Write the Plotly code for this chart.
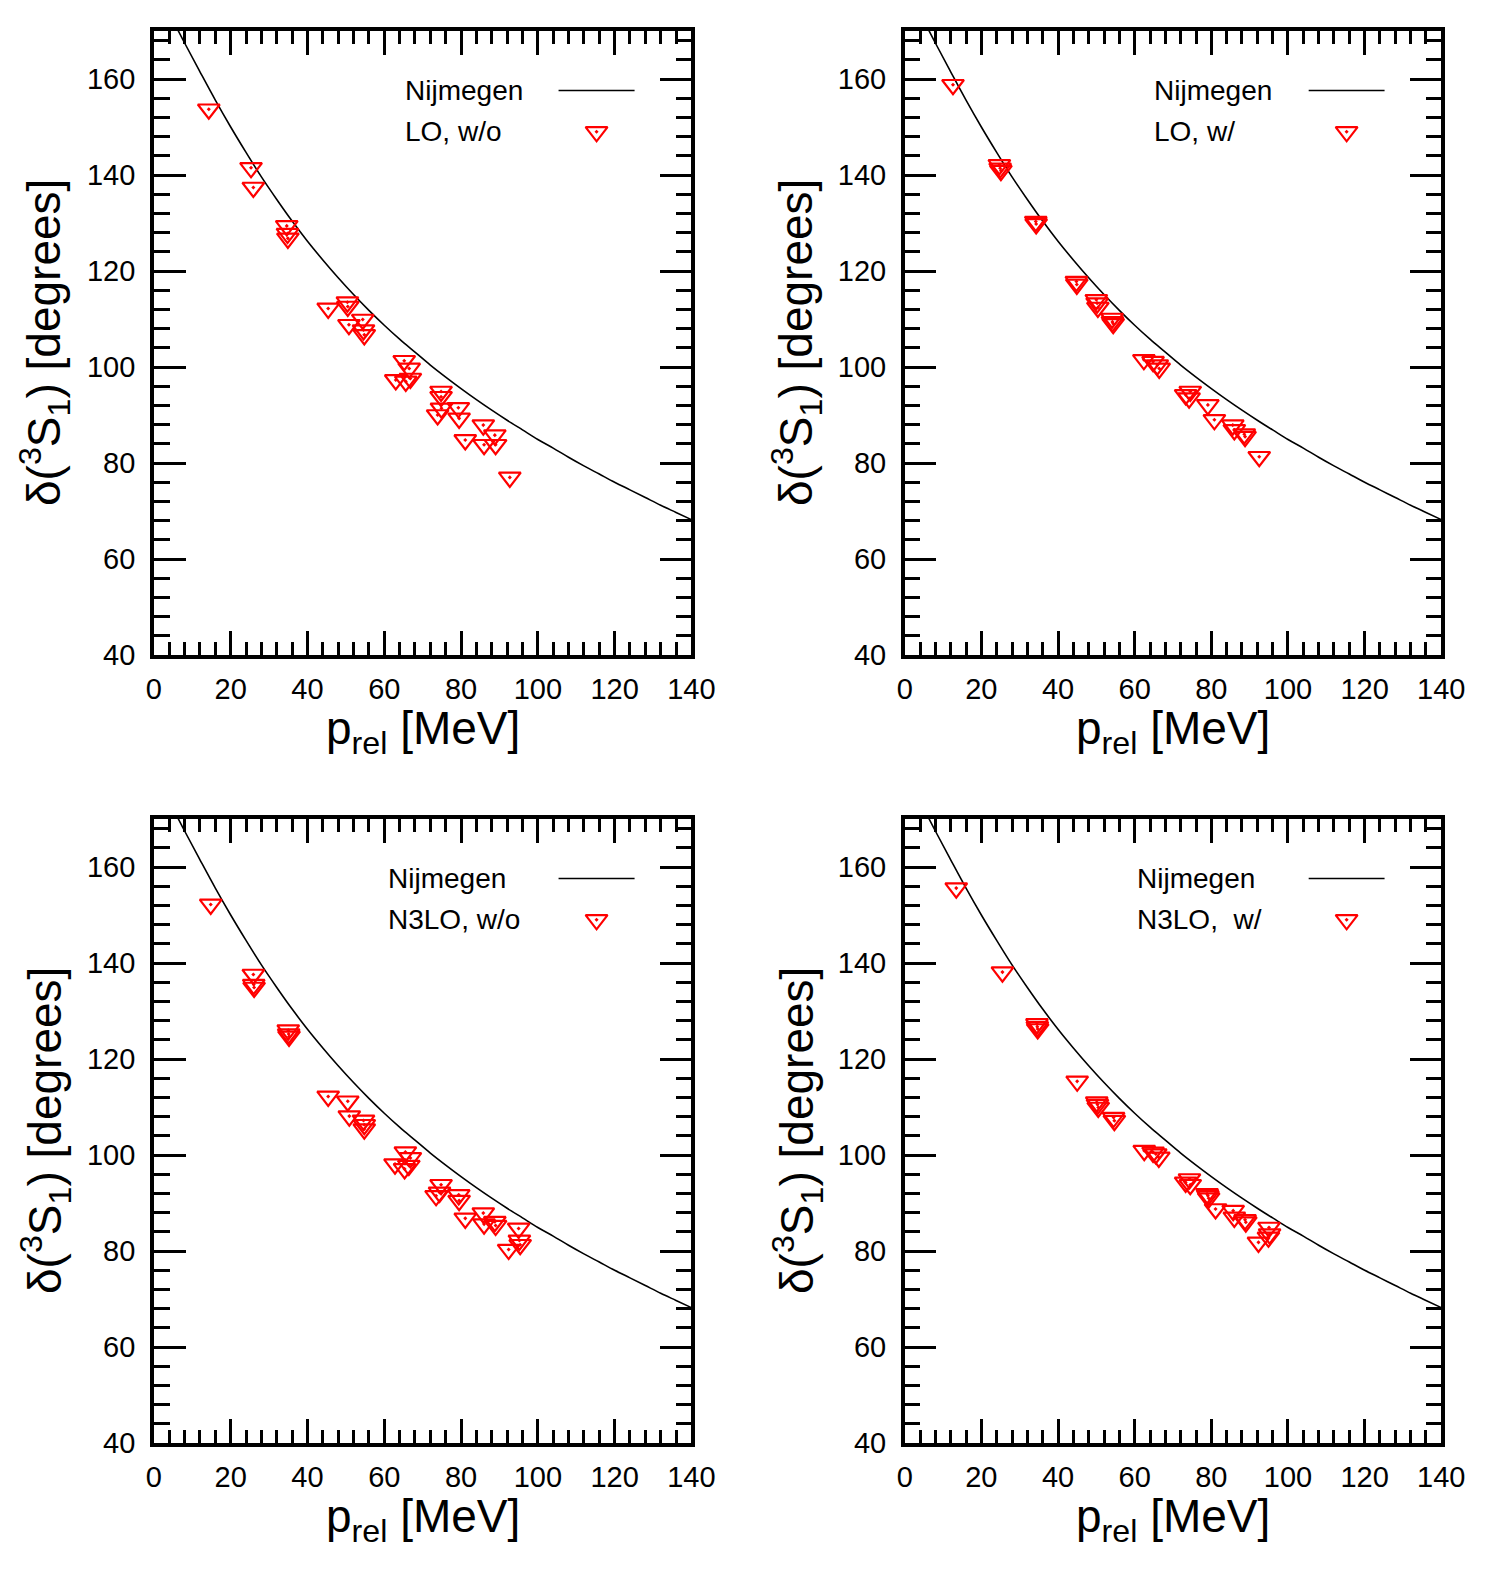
import plotly.graph_objects as go

# ---------------- data ----------------
p_nij = [4, 8, 12, 16, 20, 24, 28, 32, 36, 40, 44, 48, 52, 56, 60, 64, 68, 72, 76, 80,
         84, 88, 92, 96, 100, 104, 108, 112, 116, 120, 124, 128, 132, 136, 140]
d_nij = [173.7, 167.5, 161.5, 155.6, 150.0, 144.7, 139.6, 134.9, 130.4, 126.2, 122.3,
         118.6, 115.1, 111.8, 108.7, 105.8, 103.1, 100.4, 97.9, 95.5, 93.2, 91.0, 88.9,
         86.9, 84.9, 83.1, 81.2, 79.4, 77.7, 76.0, 74.4, 72.8, 71.2, 69.7, 68.2]

p_lo_wo = [14.3, 25.3, 25.9, 34.6, 34.8, 34.9, 45.4, 50.4, 50.5, 50.8, 54.4, 54.6, 54.8,
           65.2, 66.5, 63.0, 65.6, 66.8, 74.8, 74.8, 74.9, 73.9, 79.3, 79.5, 81.1, 85.8,
           86.0, 88.8, 89.0, 92.7]
d_lo_wo = [153.7, 141.5, 137.4, 129.4, 127.8, 126.8, 112.2, 113.5, 112.6, 108.8, 109.9,
           107.7, 106.7, 101.3, 99.7, 97.3, 97.0, 97.6, 94.9, 93.8, 91.4, 90.0, 91.5, 89.3,
           84.8, 87.9, 83.8, 85.8, 83.8, 77.0]

p_lo_w = [12.6, 24.7, 24.9, 25.1, 34.2, 34.3, 44.8, 44.9, 50.0, 50.2, 50.4, 54.1, 54.2,
          54.4, 62.4, 64.8, 65.9, 66.4, 73.3, 74.5, 74.2, 79.1, 80.8, 85.6, 86.0, 88.6,
          88.8, 92.5]
d_lo_w = [158.8, 142.1, 141.4, 140.9, 130.3, 129.8, 117.8, 117.2, 114.0, 113.3, 112.4,
          110.1, 109.4, 109.0, 101.5, 101.1, 100.4, 99.7, 94.2, 94.9, 93.5, 92.1, 89.0,
          87.9, 86.9, 86.0, 85.5, 81.3]

p_n3lo_wo = [14.8, 25.9, 26.0, 26.1, 35.0, 35.1, 35.2, 45.4, 50.5, 50.9, 54.6, 54.8, 54.8,
             65.5, 66.8, 62.8, 65.3, 66.4, 74.8, 73.5, 74.4, 79.4, 79.5, 81.1, 85.8, 86.0,
             88.8, 89.0, 95.0, 95.2, 95.4, 92.4]
d_n3lo_wo = [152.2, 137.6, 135.5, 134.9, 126.0, 125.2, 124.7, 112.2, 111.2, 108.1, 107.2,
             106.3, 105.4, 100.6, 99.4, 98.1, 97.1, 97.8, 93.8, 91.5, 92.2, 91.7, 90.5,
             86.8, 87.9, 85.6, 86.1, 85.3, 84.7, 82.2, 81.3, 80.3]

p_n3lo_w = [13.45, 25.5, 34.5, 34.6, 34.7, 45.0, 50.1, 50.3, 50.5, 54.5, 54.7, 62.5, 64.8,
            65.5, 66.3, 73.3, 74.3, 74.5, 78.9, 79.1, 79.3, 81.1, 85.7, 86.0, 88.8, 89.0,
            95.05, 95.2, 94.9, 92.3]
d_n3lo_w = [155.6, 138.1, 127.3, 126.7, 126.25, 115.35, 111.0, 110.5, 109.9, 107.8, 107.15,
            100.9, 100.55, 100.2, 99.5, 94.3, 95.0, 93.8, 91.9, 91.5, 91.0, 88.75, 88.4,
            87.0, 86.5, 86.0, 84.9, 83.5, 82.85, 81.8]

x_tickvals = [0, 20, 40, 60, 80, 100, 120, 140]
x_ticktext = ["0", "20", "40", "60", "80", "100", "120", "140"]
y_tickvals = [40, 60, 80, 100, 120, 140, 160]
y_ticktext = ["40", "60", "80", "100", "120", "140", "160"]

series_labels = ["LO, w/o", "LO, w/", "N3LO, w/o", "N3LO,  w/"]
curve_label = "Nijmegen"

# ---------------- layout geometry ----------------
W, H = 1500, 1575
FONT = "Liberation Sans, Arial, Helvetica, sans-serif"
RED = "#ff0000"

xdom_left = [153.9 / W, 691.4 / W]
xdom_right = [904.7 / W, 1441.3 / W]
ydom_top = [1 - 655.0 / H, 1 - 31.0 / H]
ydom_bot = [1 - 1443.0 / H, 1 - 819.0 / H]

LEG_TEXT_X = [65.0, 64.6, 60.4, 60.1]
LEG_Y1, LEG_Y2 = 157.6, 149.0
LEG_LINE_X = [105.4, 125.2]
LEG_MARK_X = 115.3

fig = go.Figure()

panels = [
    ("x", "y", p_lo_wo, d_lo_wo),
    ("x2", "y2", p_lo_w, d_lo_w),
    ("x3", "y3", p_n3lo_wo, d_n3lo_wo),
    ("x4", "y4", p_n3lo_w, d_n3lo_w),
]

marker_style = dict(symbol="triangle-down-open-dot", size=19, color=RED,
                    line=dict(width=2.2, color=RED))

annotations = []
shapes = []
for i, (xa, ya, px, py) in enumerate(panels):
    fig.add_trace(go.Scatter(x=p_nij, y=d_nij, mode="lines",
                             line=dict(color="black", width=1.6, shape="spline"),
                             xaxis=xa, yaxis=ya, showlegend=False, hoverinfo="skip"))
    fig.add_trace(go.Scatter(x=px, y=py, mode="markers", marker=marker_style,
                             xaxis=xa, yaxis=ya, showlegend=False))
    fig.add_trace(go.Scatter(x=[LEG_MARK_X], y=[LEG_Y2], mode="markers", marker=marker_style,
                             xaxis=xa, yaxis=ya, showlegend=False, hoverinfo="skip"))
    shapes.append(dict(type="line", xref=xa, yref=ya, x0=LEG_LINE_X[0], x1=LEG_LINE_X[1],
                       y0=LEG_Y1, y1=LEG_Y1, line=dict(color="black", width=1.6)))
    annotations.append(dict(xref=xa, yref=ya, x=LEG_TEXT_X[i], y=LEG_Y1, text=curve_label,
                            xanchor="left", yanchor="middle", showarrow=False,
                            font=dict(size=28, family=FONT, color="black")))
    annotations.append(dict(xref=xa, yref=ya, x=LEG_TEXT_X[i], y=LEG_Y2, text=series_labels[i],
                            xanchor="left", yanchor="middle", showarrow=False,
                            font=dict(size=28, family=FONT, color="black")))


def xaxis_cfg(domain, anchor):
    return dict(domain=domain, anchor=anchor, range=[0, 140],
                tickmode="array", tickvals=x_tickvals, ticktext=x_ticktext,
                ticks="inside", ticklen=24, tickwidth=2.5, tickcolor="black",
                showline=True, linewidth=3.5, linecolor="black", mirror="ticks",
                showgrid=False, zeroline=False, ticklabelstandoff=5, automargin=False,
                tickfont=dict(size=29, family=FONT, color="black"),
                minor=dict(tickmode="linear", tick0=0, dtick=4, ticks="inside", ticklen=13,
                           tickwidth=2.5, tickcolor="black", showgrid=False))


def yaxis_cfg(domain, anchor):
    return dict(domain=domain, anchor=anchor, range=[40, 170],
                tickmode="array", tickvals=y_tickvals, ticktext=y_ticktext,
                ticks="inside", ticklen=32, tickwidth=2.5, tickcolor="black",
                showline=True, linewidth=3.5, linecolor="black", mirror="ticks",
                showgrid=False, zeroline=False, ticklabelstandoff=9, automargin=False,
                tickfont=dict(size=29, family=FONT, color="black"),
                minor=dict(tickmode="linear", tick0=40, dtick=4, ticks="inside", ticklen=16,
                           tickwidth=2.5, tickcolor="black", showgrid=False))


xtitle = "p<sub>rel</sub> [MeV]"
ytitle = "δ(<sup>3</sup>S<sub>1</sub>) [degrees]"
for xc in [(xdom_left[0] + xdom_left[1]) / 2, (xdom_right[0] + xdom_right[1]) / 2]:
    for yc in [1 - 731.0 / H, 1 - 1519.0 / H]:
        annotations.append(dict(xref="paper", yref="paper", x=xc, y=yc, text=xtitle,
                                xanchor="center", yanchor="middle", showarrow=False,
                                font=dict(size=46, family=FONT, color="black")))
for xc in [45.0 / W, 797.0 / W]:
    for yc in [1 - 343.0 / H, 1 - 1131.0 / H]:
        annotations.append(dict(xref="paper", yref="paper", x=xc, y=yc, text=ytitle,
                                textangle=-90, xanchor="center", yanchor="middle",
                                showarrow=False,
                                font=dict(size=46, family=FONT, color="black")))

fig.update_layout(
    width=W, height=H, autosize=False, margin=dict(l=0, r=0, t=0, b=0, pad=0, autoexpand=False),
    paper_bgcolor="white", plot_bgcolor="white", showlegend=False,
    xaxis=xaxis_cfg(xdom_left, "y"), yaxis=yaxis_cfg(ydom_top, "x"),
    xaxis2=xaxis_cfg(xdom_right, "y2"), yaxis2=yaxis_cfg(ydom_top, "x2"),
    xaxis3=xaxis_cfg(xdom_left, "y3"), yaxis3=yaxis_cfg(ydom_bot, "x3"),
    xaxis4=xaxis_cfg(xdom_right, "y4"), yaxis4=yaxis_cfg(ydom_bot, "x4"),
    annotations=annotations, shapes=shapes,
)

fig.write_html("out.html")
